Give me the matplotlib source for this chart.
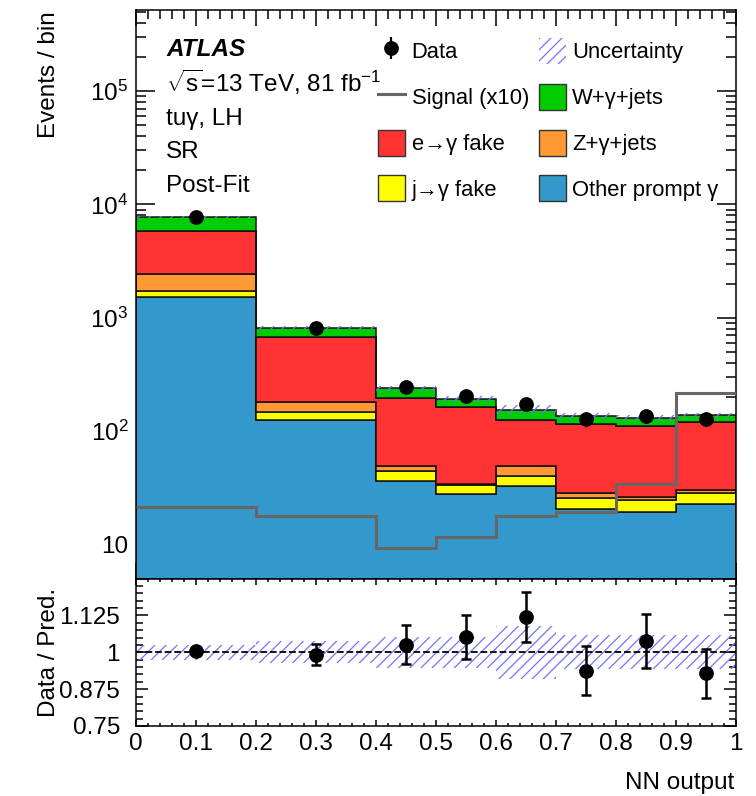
import numpy as np
import matplotlib
matplotlib.use("Agg")
import matplotlib.pyplot as plt
from matplotlib.patches import Patch
from matplotlib.lines import Line2D
from matplotlib.transforms import Bbox
from matplotlib.font_manager import FontProperties
from matplotlib.ticker import FixedLocator, FixedFormatter, MultipleLocator, LogLocator, NullFormatter

plt.rcParams['font.family'] = ['Liberation Sans', 'DejaVu Sans']
plt.rcParams['mathtext.fontset'] = 'custom'
plt.rcParams['mathtext.rm'] = 'Liberation Sans'
plt.rcParams['mathtext.it'] = 'Liberation Sans:italic'
plt.rcParams['mathtext.bf'] = 'Liberation Sans:bold'
plt.rcParams['hatch.linewidth'] = 0.9

# ---- histogram content ----
bin_edges = [0.0, 0.2, 0.4, 0.5, 0.6, 0.7, 0.8, 0.9, 1.0]
other_prompt = [1513, 124, 36.6, 28.1, 32.8, 20.5, 19.2, 22.9]
jet_fake = [210, 22, 7.7, 5.2, 7.5, 5.4, 5.5, 5.8]
z_gamma = [717, 33.6, 5.0, 0.9, 8.4, 2.5, 1.5, 1.8]
e_fake = [3360, 503, 147.7, 128.8, 76.3, 87.6, 84.5, 90.5]
w_gamma = [1920, 137, 42, 29, 29.5, 20.5, 20.3, 16.7]
signal_x10 = [21.4, 17.8, 9.2, 11.6, 17.8, 19.3, 34.4, 216]
data = [7750, 813, 245, 202, 173, 128, 136, 128]
data_rel_err = [0.012, 0.036, 0.066, 0.075, 0.085, 0.083, 0.090, 0.083]
syst_rel_unc = [0.025, 0.037, 0.053, 0.053, 0.089, 0.058, 0.058, 0.058]

main_ytick_vals = [10, 1e2, 1e3, 1e4, 1e5]
main_ytick_labels = ['10', r'$\mathregular{10^{2}}$', r'$\mathregular{10^{3}}$',
                     r'$\mathregular{10^{4}}$', r'$\mathregular{10^{5}}$']
ratio_ytick_vals = [0.75, 0.875, 1.0, 1.125, 1.25]
ratio_ytick_labels = ['0.75', '0.875', '1', '1.125', '']
xtick_vals = [0.0, 0.1, 0.2, 0.3, 0.4, 0.5, 0.6, 0.7, 0.8, 0.9, 1.0]
xtick_labels = ['0', '0.1', '0.2', '0.3', '0.4', '0.5', '0.6', '0.7', '0.8', '0.9', '1']

lab_other = 'Other prompt γ'
lab_jfake = 'j→γ fake'
lab_z = 'Z+γ+jets'
lab_efake = 'e→γ fake'
lab_w = 'W+γ+jets'

stack = [
    (other_prompt, '#3399CC', lab_other),
    (jet_fake, '#FFFF00', lab_jfake),
    (z_gamma, '#FF9933', lab_z),
    (e_fake, '#FF3333', lab_efake),
    (w_gamma, '#00CC00', lab_w),
]

W, H = 756, 796
fig = plt.figure(figsize=(W / 100, H / 100), dpi=100)

def fx(px):
    return px / W

def fy(px):
    return 1 - px / H

ax_l, ax_r = 136, 736
main_top, split, ratio_bot = 10, 578.5, 726
ax = fig.add_axes([fx(ax_l), fy(split), fx(ax_r - ax_l), (split - main_top) / H])
axr = fig.add_axes([fx(ax_l), fy(ratio_bot), fx(ax_r - ax_l), (ratio_bot - split) / H])

edges = np.array(bin_edges)
centers = 0.5 * (edges[1:] + edges[:-1])
hatch_col = '#7373FF'
edge_col = '#111111'
hatch_pat = '///'

# stacked backgrounds
base = np.zeros(len(centers))
handles_bkg = {}
for vals, col, lab in stack:
    top = base + np.array(vals, dtype=float)
    ax.stairs(top, edges, baseline=np.maximum(base, 1e-2), fill=True,
              facecolor=col, edgecolor=edge_col, linewidth=1.1, zorder=2)
    handles_bkg[lab] = Patch(facecolor=col, edgecolor='#333333', linewidth=1.0)
    base = top
total = base

unc = np.array(syst_rel_unc)
ax.stairs(total * (1 + unc), edges, baseline=total * (1 - unc), fill=True,
          facecolor='none', edgecolor=hatch_col, linewidth=0, hatch=hatch_pat, zorder=3)

ax.stairs(signal_x10, edges, baseline=None, color='#666666', linewidth=2.2, zorder=4)

data_arr = np.array(data, dtype=float)
derr = np.array(data_rel_err)
h_data = ax.errorbar(centers, data_arr, yerr=derr * total, fmt='o', color='black',
                     ms=9.6, elinewidth=1.6, capsize=0, zorder=5)

ax.set_yscale('log')
ax.set_xlim(0, 1)
ax.set_ylim(5, 5.2e5)
ax.yaxis.set_major_locator(FixedLocator(main_ytick_vals))
ax.yaxis.set_major_formatter(FixedFormatter(main_ytick_labels))
ax.yaxis.set_minor_locator(LogLocator(base=10, subs=np.arange(2, 10), numticks=20))
ax.yaxis.set_minor_formatter(NullFormatter())
ax.xaxis.set_major_locator(FixedLocator(xtick_vals))
ax.xaxis.set_minor_locator(MultipleLocator(0.02))
ax.tick_params(axis='both', which='both', direction='in', top=True, right=True,
               labelbottom=False, labelsize=17.5, width=1.1)
ax.tick_params(axis='x', which='major', length=11.5)
ax.tick_params(axis='x', which='minor', length=6.5)
ax.tick_params(axis='y', which='major', length=13.7, pad=5.5)
ax.tick_params(axis='y', which='minor', length=7.2)
for s in ax.spines.values():
    s.set_linewidth(1.1)

# legend
h_unc = Patch(facecolor='none', edgecolor=hatch_col, linewidth=0, hatch=hatch_pat)
h_sig = Line2D([], [], color='#666666', linewidth=2.2)
leg_handles = [h_data, h_sig, handles_bkg[lab_efake], handles_bkg[lab_jfake],
               h_unc, handles_bkg[lab_w], handles_bkg[lab_z], handles_bkg[lab_other]]
leg_labels = ['Data', 'Signal (x10)', lab_efake, lab_jfake,
              'Uncertainty', lab_w, lab_z, lab_other]
leg_font = FontProperties(family=['Liberation Sans', 'Noto Sans CJK JP', 'DejaVu Sans'],
                          size=15.8)
ax.legend(leg_handles, leg_labels, ncol=2, loc='upper left',
          bbox_to_anchor=((378 - ax_l) / (ax_r - ax_l), (split - 38) / (split - main_top)),
          frameon=False, prop=leg_font, handlelength=1.23, handleheight=1.45,
          handletextpad=0.3, columnspacing=0.45, labelspacing=0.9,
          borderpad=0, borderaxespad=0)

# labels on the plot
fig.text(fx(166), fy(56), 'ATLAS', fontsize=17.5, fontweight='bold',
         fontstyle='italic', va='baseline')
info_lines = [r'$\sqrt{\mathrm{s}}$=13 TeV, 81 fb$^{\mathregular{-1}}$', 'tuγ, LH', 'SR', 'Post-Fit']
for txt, yb in zip(info_lines, [91.7, 125, 158.3, 191.7]):
    fig.text(fx(166), fy(yb), txt, fontsize=17.5, va='baseline')

ylab = fig.text(fx(55), fy(138), 'Events / bin', fontsize=17.5, rotation=90,
                rotation_mode='anchor', ha='left', va='baseline')
ylab.set_clip_box(Bbox.from_extents(0, 0, W, H - 12))
ylab.set_clip_on(True)

# ratio panel
ratio = data_arr / total
axr.stairs(1 + unc, edges, baseline=1 - unc, fill=True, facecolor='none',
           edgecolor=hatch_col, linewidth=0, hatch=hatch_pat, zorder=2)
axr.axhline(1.0, color='black', linestyle='--', linewidth=1.3, zorder=3)
axr.errorbar(centers, ratio, yerr=derr, fmt='o', color='black', ms=9.6,
             elinewidth=1.8, capsize=3.6, capthick=1.8, zorder=5)
axr.set_xlim(0, 1)
axr.set_ylim(0.75, 1.25)
axr.xaxis.set_major_locator(FixedLocator(xtick_vals))
axr.xaxis.set_major_formatter(FixedFormatter(xtick_labels))
axr.xaxis.set_minor_locator(MultipleLocator(0.02))
axr.yaxis.set_major_locator(FixedLocator(ratio_ytick_vals))
axr.yaxis.set_major_formatter(FixedFormatter(ratio_ytick_labels))
axr.yaxis.set_minor_locator(MultipleLocator(0.025))
axr.tick_params(axis='both', which='both', direction='in', top=True, right=True,
                labelsize=17.5, width=1.1)
axr.tick_params(axis='x', which='major', length=4.5, pad=5)
axr.tick_params(axis='x', which='minor', length=2.3)
axr.tick_params(axis='y', which='major', length=8.8, pad=11.5)
axr.tick_params(axis='y', which='minor', length=5)
for s in axr.spines.values():
    s.set_linewidth(1.1)

fig.text(fx(55), fy(716.7), 'Data / Pred.', fontsize=17.5, rotation=90,
         rotation_mode='anchor', ha='left', va='baseline')
fig.text(fx(734), fy(789.3), 'NN output', fontsize=17.5, ha='right', va='baseline')

fig.savefig('out.png', dpi=100)
